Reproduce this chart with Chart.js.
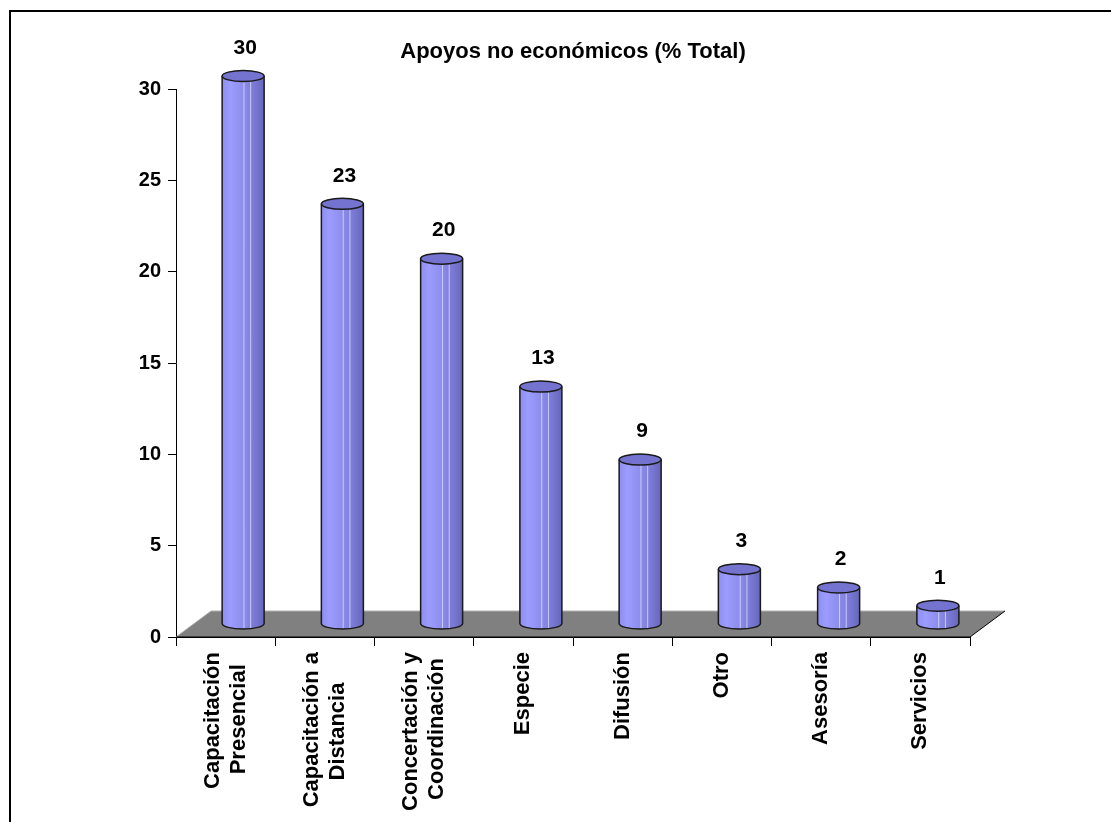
<!DOCTYPE html>
<html>
<head>
<meta charset="utf-8">
<script src="https://cdn.jsdelivr.net/npm/chart.js@4/dist/chart.umd.min.js"></script>
<style>
  html, body { margin: 0; padding: 0; background: #fff; }
  canvas { display: block; }
</style>
</head>
<body>
<canvas id="js-chart" width="1111" height="822"></canvas>
<script>
"use strict";

// datos del grafico
const categorias = [
  ["Capacitación", "Presencial"],
  ["Capacitación a", "Distancia"],
  ["Concertación y", "Coordinación"],
  "Especie",
  "Difusión",
  "Otro",
  "Asesoría",
  "Servicios",
];
const valores = [30, 23, 20, 13, 9, 3, 2, 1];
const titulo = "Apoyos no económicos (% Total)";
const ejeY = { min: 0, max: 30, paso: 5 };

const FUENTE = "'Liberation Sans', Arial, sans-serif";
const DX = 35, DY = 26; // profundidad del "piso" 3D
const MEDIA_LINEA = 13; // media altura de linea de las etiquetas del eje x

// Excel centra las etiquetas de dos lineas sobre la marca y centra cada linea;
// se usa media altura de linea con lineas vacias intercaladas para lograrlo
const medidor = document.createElement("canvas").getContext("2d");
medidor.font = "bold 22px " + FUENTE;
function etiquetaX(lab) {
  if (!Array.isArray(lab)) return ["", lab];
  const anchos = lab.map((l) => medidor.measureText(l).width);
  const maxW = Math.max(...anchos);
  const esp = medidor.measureText(" ").width;
  const lineas = lab.map((l, i) => l + " ".repeat(Math.round((maxW - anchos[i]) / 2 / esp)));
  return [lineas[0], "", lineas[1]];
}

// marco de la imagen (solo lineas arriba e izquierda)
const marco = {
  id: "marco",
  beforeDraw(chart) {
    const c = chart.ctx;
    c.save();
    c.strokeStyle = "#000";
    c.lineWidth = 2;
    c.beginPath();
    c.moveTo(10, 822);
    c.lineTo(10, 11);
    c.lineTo(1111, 11);
    c.stroke();
    c.restore();
  },
};

// piso gris y cilindros
const cilindros = {
  id: "cilindros",
  beforeDatasetsDraw(chart) {
    const c = chart.ctx;
    const a = chart.chartArea;
    const b = chart.scales.y.getPixelForValue(0);
    c.save();
    c.fillStyle = "#808080";
    c.beginPath();
    c.moveTo(a.left, b);
    c.lineTo(a.right, b);
    c.lineTo(a.right + DX, b - DY);
    c.lineTo(a.left + DX, b - DY);
    c.closePath();
    c.fill();
    c.lineWidth = 1;
    c.strokeStyle = "#b0b0b0";
    c.beginPath();
    c.moveTo(a.left, b);
    c.lineTo(a.left + DX, b - DY);
    c.lineTo(a.right + DX, b - DY);
    c.stroke();
    c.strokeStyle = "#000";
    c.beginPath();
    c.moveTo(a.right + DX, b - DY);
    c.lineTo(a.right, b);
    c.lineTo(a.left, b);
    c.stroke();
    c.restore();
  },
  afterDatasetsDraw(chart) {
    const c = chart.ctx;
    const meta = chart.getDatasetMeta(0);
    const rx = 21, ry = 5.5;
    c.save();
    meta.data.forEach((bar, i) => {
      const cx = bar.x + DX / 2;
      const top = bar.y - DY / 2;
      const base = bar.base - DY / 2;

      const g = c.createLinearGradient(cx - rx, 0, cx + rx, 0);
      g.addColorStop(0, "#8e8ef2");
      g.addColorStop(0.2, "#9c9cff");
      g.addColorStop(0.5, "#8d8dec");
      g.addColorStop(0.8, "#7777d2");
      g.addColorStop(1, "#6666bb");

      c.beginPath();
      c.moveTo(cx - rx, top);
      c.lineTo(cx - rx, base);
      c.ellipse(cx, base, rx, ry, 0, Math.PI, 0, true);
      c.lineTo(cx + rx, top);
      c.ellipse(cx, top, rx, ry, 0, 0, Math.PI, true);
      c.closePath();
      c.fillStyle = g;
      c.fill();

      // reflejos verticales
      c.strokeStyle = "rgba(220,220,255,0.8)";
      c.lineWidth = 1;
      [0.02, 0.18].forEach((f) => {
        c.beginPath();
        c.moveTo(cx + f * 2 * rx, top + ry);
        c.lineTo(cx + f * 2 * rx, base + ry * 0.9);
        c.stroke();
      });

      c.strokeStyle = "#1a1a1a";
      c.lineWidth = 1.5;
      c.beginPath();
      c.moveTo(cx - rx, top);
      c.lineTo(cx - rx, base);
      c.ellipse(cx, base, rx, ry, 0, Math.PI, 0, true);
      c.lineTo(cx + rx, top);
      c.stroke();

      c.beginPath();
      c.ellipse(cx, top, rx, ry, 0, 0, Math.PI * 2);
      c.fillStyle = "#7474d0";
      c.fill();
      c.stroke();

      // etiqueta de valor
      c.fillStyle = "#000";
      c.font = "bold 21px " + FUENTE;
      c.textAlign = "center";
      c.textBaseline = "middle";
      c.fillText(String(valores[i]), cx + 2, top - 28);
    });
    c.restore();
  },
};

const ctx = document.getElementById("js-chart").getContext("2d");
const myChart = new Chart(ctx, {
  type: "bar",
  data: {
    labels: categorias,
    datasets: [
      {
        label: titulo,
        data: valores,
        backgroundColor: "rgba(0,0,0,0)",
        borderWidth: 0,
      },
    ],
  },
  options: {
    responsive: false,
    animation: false,
    events: [],
    devicePixelRatio: 1,
    layout: { padding: { left: 136, right: 141, top: 10, bottom: 0 } },
    plugins: {
      legend: { display: false },
      tooltip: { enabled: false },
      title: {
        display: true,
        text: titulo,
        fullSize: false,
        color: "#000",
        font: { family: FUENTE, size: 22, weight: "bold", lineHeight: 1.2 },
        padding: { top: 29, bottom: 23.6 },
      },
    },
    scales: {
      x: {
        grid: {
          offset: true,
          drawOnChartArea: false,
          drawTicks: true,
          tickLength: 9,
          color: "#000",
        },
        border: { color: "#000", width: 1 },
        ticks: {
          color: "#000",
          font: { family: FUENTE, size: 22, weight: "bold", lineHeight: MEDIA_LINEA + "px" },
          minRotation: 90,
          maxRotation: 90,
          autoSkip: false,
          padding: 6,
          labelOffset: -MEDIA_LINEA,
          callback(value) {
            return etiquetaX(this.getLabelForValue(value));
          },
        },
        afterFit(scale) {
          scale.height = 185;
        },
      },
      y: {
        min: ejeY.min,
        max: ejeY.max,
        grid: {
          drawOnChartArea: false,
          drawTicks: true,
          tickLength: 8,
          color: "#000",
        },
        border: { color: "#000", width: 1 },
        ticks: {
          stepSize: ejeY.paso,
          color: "#000",
          font: { family: FUENTE, size: 20, weight: "bold" },
          padding: 7,
        },
        afterFit(scale) {
          scale.width = 40;
        },
      },
    },
  },
  plugins: [marco, cilindros],
});
</script>
</body>
</html>
